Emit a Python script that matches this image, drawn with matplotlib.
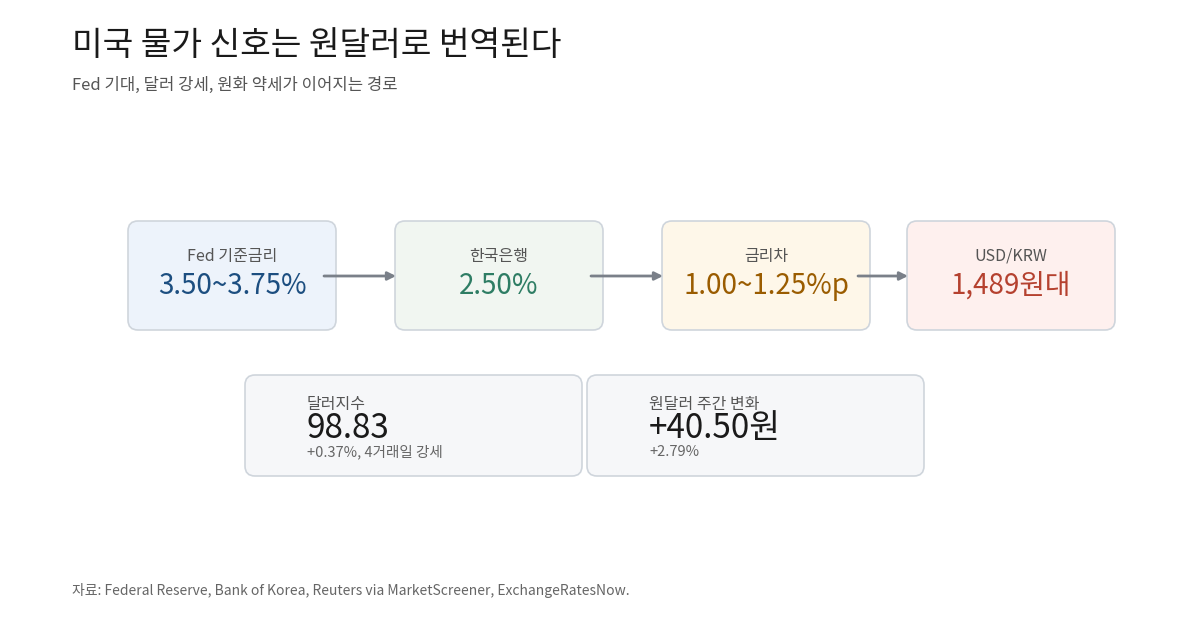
import matplotlib.pyplot as plt
from matplotlib.patches import FancyBboxPatch

plt.rcParams['font.family'] = ['Noto Sans CJK KR', 'DejaVu Sans']

title = '미국 물가 신호는 원달러로 번역된다'
subtitle = 'Fed 기대, 달러 강세, 원화 약세가 이어지는 경로'
source = '자료: Federal Reserve, Bank of Korea, Reuters via MarketScreener, ExchangeRatesNow.'

flow_labels = ['Fed 기준금리', '한국은행', '금리차', 'USD/KRW']
flow_values = ['3.50~3.75%', '2.50%', '1.00~1.25%p', '1,489원대']
flow_faces = ['#EDF3FB', '#F1F6F1', '#FEF7E9', '#FEF0EE']
flow_colors = ['#1C4E80', '#2E7D64', '#9A5C00', '#B5412F']
flow_x = [128, 395, 662, 907]

card_labels = ['달러지수', '원달러 주간 변화']
card_values = ['98.83', '+40.50원']
card_notes = ['+0.37%, 4거래일 강세', '+2.79%']
card_x = [245, 587]

fig = plt.figure(figsize=(12, 6.3), dpi=100)
ax = fig.add_axes([0, 0, 1, 1])
ax.set_xlim(0, 1200)
ax.set_ylim(630, 0)
ax.axis('off')

edge = '#CFD5DC'
for x, lab, val, fc, c in zip(flow_x, flow_labels, flow_values, flow_faces, flow_colors):
    ax.add_patch(FancyBboxPatch((x, 221), 208, 109, boxstyle='round,pad=0,rounding_size=10',
                                fc=fc, ec=edge, lw=1.2))
    ax.text(x + 104, 256, lab, ha='center', va='center', fontsize=11.5, color='#555555')
    ax.text(x + 104, 286, val, ha='center', va='center', fontsize=20, color=c)

for i in range(len(flow_x) - 1):
    ax.annotate('', xy=(flow_x[i + 1] + 1, 276), xytext=(flow_x[i] + 196, 276),
                arrowprops=dict(arrowstyle='-|>', color='#7A8089', lw=2, mutation_scale=12,
                                shrinkA=0, shrinkB=0))

for x, lab, val, note in zip(card_x, card_labels, card_values, card_notes):
    ax.add_patch(FancyBboxPatch((x, 375), 337, 101, boxstyle='round,pad=0,rounding_size=10',
                                fc='#F6F7F9', ec=edge, lw=1.2))
    ax.text(x + 62, 404, lab, ha='left', va='center', fontsize=11.5, color='#555555')
    ax.text(x + 62, 429, val, ha='left', va='center', fontsize=24, color='#1A1A1A')
    ax.text(x + 62, 452, note, ha='left', va='center', fontsize=10.5, color='#666666')

ax.text(72, 46, title, ha='left', va='center', fontsize=24, color='#1A1A1A')
ax.text(72, 85, subtitle, ha='left', va='center', fontsize=12, color='#555555')
ax.text(72, 590, source, ha='left', va='center', fontsize=10, color='#666666')

fig.savefig('out.png', dpi=100, facecolor='white')
